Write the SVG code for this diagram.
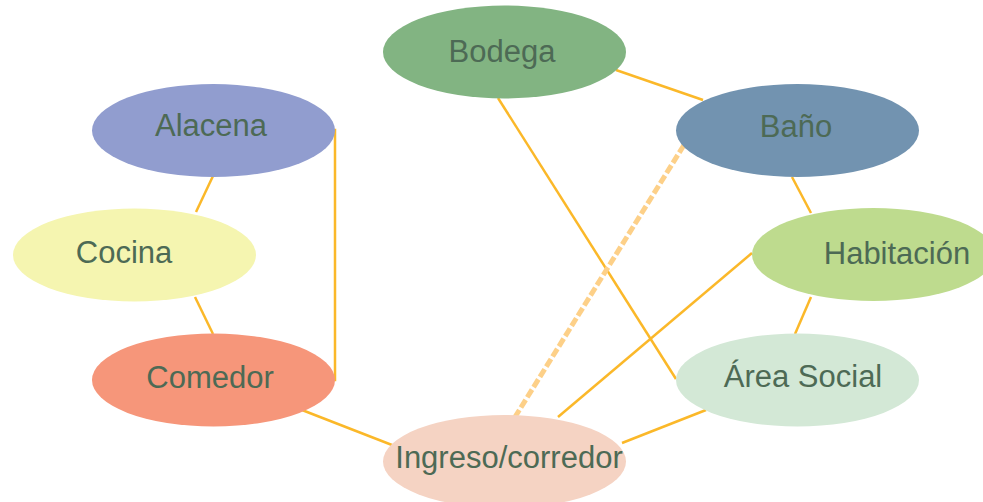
<svg xmlns="http://www.w3.org/2000/svg" width="983" height="502" viewBox="0 0 983 502">
<style>
.c{stroke:#fbb829;stroke-width:2.5;fill:none}
.d{stroke:#fdd088;stroke-width:5;stroke-dasharray:9,3;fill:none}
.t{font-family:"Liberation Sans",Arial,sans-serif;font-size:31px;fill:#4d6a55;text-anchor:middle}
</style>
<rect width="983" height="502" fill="#ffffff"/>
<g id="connectors">
<line class="c" x1="213" y1="176" x2="196" y2="212"/>
<line class="c" x1="195" y1="297" x2="213" y2="334"/>
<polyline class="c" points="333,130 335,130 335,380 333,380"/>
<line class="c" x1="302" y1="410" x2="392" y2="445"/>
<line class="c" x1="616" y1="70" x2="703" y2="100"/>
<line class="c" x1="498" y1="98" x2="676" y2="379"/>
<line class="d" x1="684" y1="145" x2="515" y2="417"/>
<line class="c" x1="752" y1="253" x2="558" y2="417"/>
<line class="c" x1="792" y1="177" x2="811" y2="213"/>
<line class="c" x1="811" y1="297" x2="795" y2="334"/>
<line class="c" x1="622" y1="443" x2="706" y2="410"/>
</g>
<g id="alacena"><ellipse cx="213.5" cy="130.5" rx="121.5" ry="46.5" fill="#919dcf"/><text class="t" x="211" y="136">Alacena</text></g>
<g id="cocina"><ellipse cx="134.5" cy="255" rx="121.5" ry="46.5" fill="#f5f5b0"/><text class="t" x="124" y="263">Cocina</text></g>
<g id="comedor"><ellipse cx="213.5" cy="380" rx="121.5" ry="46.5" fill="#f6967a"/><text class="t" x="210" y="388">Comedor</text></g>
<g id="bodega"><ellipse cx="504.5" cy="52" rx="121.5" ry="46.5" fill="#82b482"/><text class="t" x="502" y="62">Bodega</text></g>
<g id="bano"><ellipse cx="797.5" cy="130.5" rx="121.5" ry="46.5" fill="#7293b0"/><text class="t" x="796" y="137">Baño</text></g>
<g id="habitacion"><ellipse cx="873.5" cy="254.5" rx="121.5" ry="46.5" fill="#bedb8e"/><text class="t" x="897" y="264">Habitación</text></g>
<g id="area-social"><ellipse cx="797.5" cy="380" rx="121.5" ry="46.5" fill="#d3e8d6"/><text class="t" x="803" y="387">Área Social</text></g>
<g id="ingreso"><ellipse cx="504.5" cy="461.5" rx="121.5" ry="46.5" fill="#f5d3c3"/><text class="t" x="509" y="468">Ingreso/corredor</text></g>
</svg>
